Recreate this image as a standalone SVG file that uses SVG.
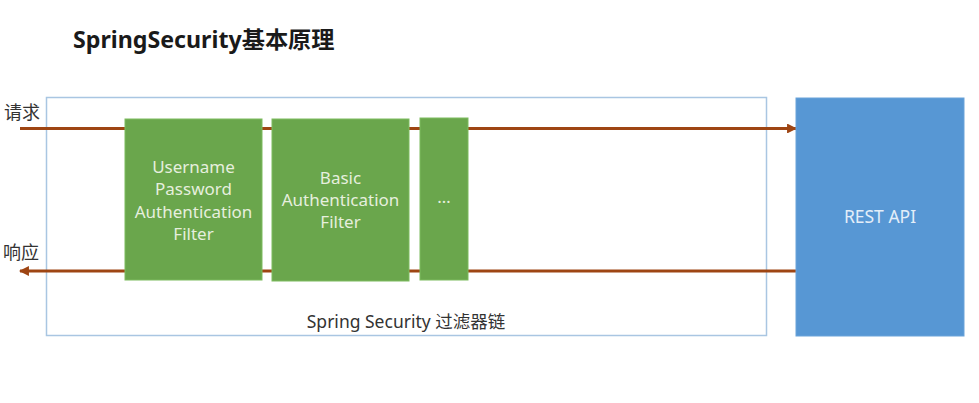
<svg xmlns="http://www.w3.org/2000/svg" width="979" height="403" viewBox="0 0 979 403">
<defs>
<style>
.title{font-family:"Noto Sans","Noto Sans CJK SC",sans-serif;font-weight:bold;font-size:23.2px;fill:#1a1a1a}
.lbl{font-family:"Noto Sans","Noto Sans CJK SC",sans-serif;font-size:17.5px;fill:#333}
.side{font-family:"Noto Sans CJK SC",sans-serif;font-size:18px;fill:#333}
.ftxt{font-family:"Noto Sans","Noto Sans CJK SC",sans-serif;font-size:17px;fill:#e6efde;text-anchor:middle}
.filter{fill:#6aa64c;stroke:#7dbb5e;stroke-width:1}
.flow{stroke:#9e4513;stroke-width:3;fill:none}
</style>
<marker id="ah" viewBox="0 0 10 10" refX="9" refY="5" markerWidth="3.3" markerHeight="3.3" orient="auto-start-reverse" markerUnits="strokeWidth">
<path d="M0,0 L10,5 L0,10 z" fill="#9e4513"/>
</marker>
</defs>
<rect width="979" height="403" fill="#ffffff"/>
<text class="title" x="73" y="48">SpringSecurity基本原理</text>
<g id="chain">
<rect x="46.5" y="97.5" width="720" height="238" fill="none" stroke="#a9c6e2" stroke-width="1.5"/>
<text class="lbl" x="406" y="328" text-anchor="middle">Spring Security 过滤器链</text>
</g>
<g id="connectors">
<line class="flow" x1="20" y1="128.5" x2="796" y2="128.5" marker-end="url(#ah)"/>
<line class="flow" x1="796" y1="271" x2="20" y2="271" marker-end="url(#ah)"/>
</g>
<g id="label-request"><text class="side" x="4" y="119">请求</text></g>
<g id="label-response"><text class="side" x="3" y="259">响应</text></g>
<g id="filter-username">
<rect class="filter" x="125" y="119" width="137" height="161"/>
<text class="ftxt" x="193.5" y="173">Username</text>
<text class="ftxt" x="193.5" y="195">Password</text>
<text class="ftxt" x="193.5" y="218">Authentication</text>
<text class="ftxt" x="193.5" y="240">Filter</text>
</g>
<g id="filter-basic">
<rect class="filter" x="272" y="119" width="137" height="162"/>
<text class="ftxt" x="340.5" y="184">Basic</text>
<text class="ftxt" x="340.5" y="206">Authentication</text>
<text class="ftxt" x="340.5" y="228">Filter</text>
</g>
<g id="filter-more">
<rect class="filter" x="420" y="118" width="48" height="162"/>
<text class="ftxt" x="444" y="203">…</text>
</g>
<g id="rest-api">
<rect x="796" y="98" width="168" height="238" fill="#5797d4" stroke="#6aa3da" stroke-width="1"/>
<text x="880" y="223" text-anchor="middle" style="font-family:'Noto Sans',sans-serif;font-size:17.5px;fill:#e3eef9">REST API</text>
</g>
</svg>
